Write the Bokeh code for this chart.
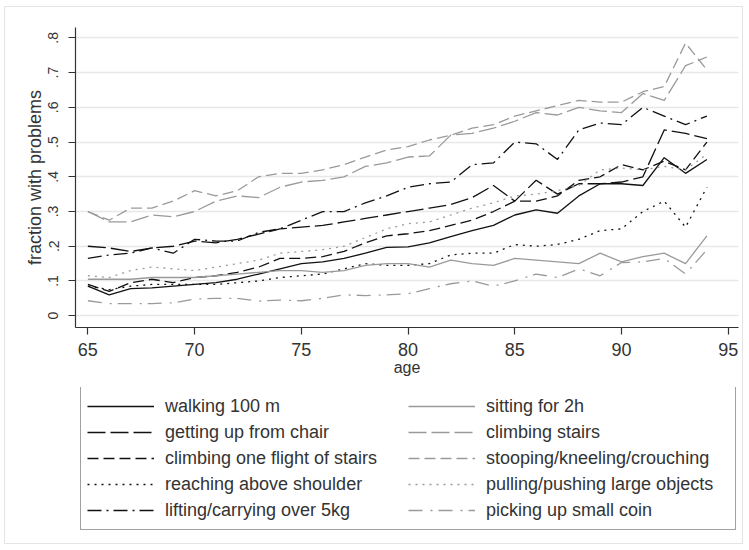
from bokeh.plotting import figure
from bokeh.layouts import column
from bokeh.models import FixedTicker, Legend, LegendItem, Range1d
from bokeh.embed import file_html
from bokeh.resources import INLINE

ages = list(range(65, 95))

walking = [0.085, 0.06, 0.078, 0.08, 0.085, 0.09, 0.095, 0.105, 0.12, 0.135, 0.15, 0.155, 0.165, 0.18, 0.197,
           0.198, 0.21, 0.228, 0.245, 0.26, 0.29, 0.305, 0.295, 0.345, 0.38, 0.38, 0.375, 0.455, 0.41, 0.45]
getting_up = [0.20, 0.195, 0.185, 0.195, 0.20, 0.215, 0.21, 0.22, 0.235, 0.25, 0.255, 0.26, 0.27, 0.28, 0.29,
              0.30, 0.31, 0.32, 0.34, 0.375, 0.33, 0.39, 0.35, 0.38, 0.38, 0.385, 0.40, 0.535, 0.525, 0.51]
climb_flight = [0.09, 0.07, 0.095, 0.105, 0.095, 0.11, 0.115, 0.125, 0.14, 0.165, 0.165, 0.17, 0.185, 0.21, 0.23,
                0.236, 0.245, 0.26, 0.275, 0.30, 0.33, 0.33, 0.345, 0.39, 0.40, 0.435, 0.42, 0.445, 0.42, 0.50]
reaching = [0.085, 0.075, 0.085, 0.09, 0.09, 0.09, 0.09, 0.095, 0.10, 0.11, 0.115, 0.12, 0.135, 0.15, 0.145,
            0.145, 0.15, 0.175, 0.18, 0.18, 0.205, 0.20, 0.205, 0.22, 0.245, 0.25, 0.30, 0.33, 0.255, 0.37]
lifting = [0.165, 0.175, 0.18, 0.195, 0.18, 0.22, 0.215, 0.215, 0.24, 0.25, 0.275, 0.30, 0.30, 0.325, 0.345,
           0.37, 0.38, 0.385, 0.435, 0.44, 0.50, 0.495, 0.45, 0.535, 0.555, 0.55, 0.60, 0.575, 0.55, 0.575]
sitting = [0.105, 0.105, 0.105, 0.11, 0.11, 0.11, 0.115, 0.12, 0.125, 0.13, 0.13, 0.125, 0.13, 0.145, 0.15,
           0.15, 0.14, 0.16, 0.15, 0.145, 0.165, 0.16, 0.155, 0.15, 0.18, 0.155, 0.17, 0.18, 0.15, 0.23]
climbing_stairs = [0.30, 0.27, 0.27, 0.29, 0.285, 0.30, 0.33, 0.345, 0.34, 0.37, 0.385, 0.39, 0.40, 0.43, 0.44,
                   0.457, 0.46, 0.52, 0.525, 0.54, 0.56, 0.585, 0.578, 0.60, 0.59, 0.585, 0.64, 0.62, 0.72, 0.745]
stooping = [0.30, 0.275, 0.31, 0.31, 0.33, 0.36, 0.345, 0.36, 0.40, 0.41, 0.41, 0.42, 0.435, 0.457, 0.477,
            0.487, 0.506, 0.52, 0.54, 0.55, 0.575, 0.59, 0.605, 0.62, 0.615, 0.615, 0.645, 0.66, 0.785, 0.708]
pulling = [0.115, 0.11, 0.13, 0.14, 0.135, 0.13, 0.14, 0.15, 0.16, 0.18, 0.185, 0.19, 0.20, 0.225, 0.25,
           0.265, 0.27, 0.29, 0.31, 0.325, 0.345, 0.35, 0.36, 0.375, 0.42, 0.425, 0.42, 0.43, 0.42, 0.465]
coin = [0.043, 0.035, 0.035, 0.035, 0.037, 0.048, 0.05, 0.05, 0.042, 0.045, 0.043, 0.05, 0.06, 0.058, 0.06,
        0.063, 0.078, 0.092, 0.10, 0.085, 0.10, 0.12, 0.11, 0.135, 0.115, 0.153, 0.155, 0.165, 0.12, 0.19]

labels = ["walking 100 m", "getting up from chair", "climbing one flight of stairs",
          "reaching above shoulder", "lifting/carrying over 5kg",
          "sitting for 2h", "climbing stairs", "stooping/kneeling/crouching",
          "pulling/pushing large objects", "picking up small coin"]
series = [walking, getting_up, climb_flight, reaching, lifting,
          sitting, climbing_stairs, stooping, pulling, coin]

x_ticks = [65, 70, 75, 80, 85, 90, 95]
y_ticks = [0, 0.1, 0.2, 0.3, 0.4, 0.5, 0.6, 0.7, 0.8]
y_tick_labels = ["0", ".1", ".2", ".3", ".4", ".5", ".6", ".7", ".8"]

BLACK = "#111111"
GREY = "#9a9a9a"
colors = [BLACK] * 5 + [GREY] * 5
dashes = ["solid", "18 5", "11 5", "2 5", "14 5 2 5",
          "solid", "18 5", "11 5", "2 5", "14 8 2 6"]

FONT = "Liberation Sans"

# ---- main chart ----
p = figure(width=737, height=380, output_backend="svg", toolbar_location=None,
           x_range=Range1d(64.42, 95.48), y_range=Range1d(-0.034, 0.830),
           min_border_left=70, min_border_top=20, min_border_right=4, min_border_bottom=60)
p.outline_line_color = None
p.background_fill_color = "white"
p.border_fill_color = "white"

p.xgrid.visible = False
p.ygrid.ticker = FixedTicker(ticks=y_ticks)
p.ygrid.grid_line_color = "#e8e8e8"
p.ygrid.grid_line_width = 1.6

for ax in (p.xaxis[0], p.yaxis[0]):
    ax.axis_line_color = "#333333"
    ax.axis_line_width = 1.2
    ax.major_tick_line_color = "#333333"
    ax.major_tick_line_width = 1.2
    ax.major_tick_out = 7
    ax.major_tick_in = 0
    ax.minor_tick_line_color = None
    ax.major_label_text_font = FONT
    ax.major_label_text_color = "#333333"
    ax.axis_label_text_font = FONT
    ax.axis_label_text_font_style = "normal"
    ax.axis_label_text_color = "#333333"

p.xaxis.ticker = FixedTicker(ticks=x_ticks)
p.xaxis.major_label_text_font_size = "18px"
p.xaxis.major_label_standoff = 8
p.xaxis.axis_label = "age"
p.xaxis.axis_label_text_font_size = "16px"
p.xaxis.axis_label_standoff = 0

p.yaxis.ticker = FixedTicker(ticks=y_ticks)
p.yaxis.major_label_overrides = {t: s for t, s in zip(y_ticks, y_tick_labels)}
p.yaxis.major_label_orientation = "vertical"
p.yaxis.major_label_text_font_size = "14px"
p.yaxis.major_label_standoff = 10
p.yaxis.axis_label = "fraction with problems"
p.yaxis.axis_label_text_font_size = "18px"
p.yaxis.axis_label_standoff = 1

for ys, c, d in zip(series, colors, dashes):
    p.line(ages, ys, line_color=c, line_width=1.3, line_dash=d)

# ---- legend panel (key lines sit outside its view; only the legend shows) ----
q = figure(width=737, height=156, output_backend="svg", toolbar_location=None,
           x_axis_location=None, y_axis_location=None,
           x_range=Range1d(0, 1), y_range=Range1d(0, 1), min_border=0)
q.grid.visible = False
q.outline_line_color = None
q.background_fill_color = "white"
q.border_fill_color = "white"

items = []
for lab, ys, c, d in zip(labels, series, colors, dashes):
    r = q.line(ages, ys, line_color=c, line_width=1.3, line_dash=d)
    items.append(LegendItem(label=lab, renderers=[r]))

legend = Legend(items=items, ncols=2, location=(5, 13),
                orientation="vertical",
                glyph_width=67, glyph_height=26, label_height=26, label_standoff=11,
                label_width=243, spacing=0, padding=6, margin=0,
                label_text_font=FONT, label_text_font_size="18px", label_text_color="#333333",
                border_line_color="#444444", border_line_width=1.2,
                background_fill_color="white", background_fill_alpha=1.0)
q.add_layout(legend, "center")

layout = column(p, q, spacing=0,
                styles={"border": "1px solid #e4e4e4", "margin-left": "4px", "margin-top": "6px"})

open("out.html", "w").write(file_html(layout, INLINE))
